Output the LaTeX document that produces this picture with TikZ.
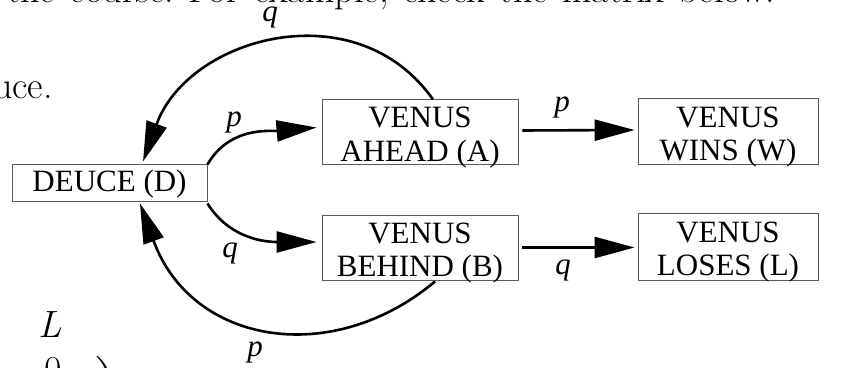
\documentclass[tikz,border=0pt]{standalone}
\usepackage{fontspec}
\newfontfamily\tnr{Liberation Serif}
\usetikzlibrary{arrows.meta}
\tikzset{
  box/.style={draw=black!65, line width=0.9pt, inner sep=0pt, minimum width=196pt, minimum height=65pt},
  boxtext/.style={align=center, inner sep=0pt, font=\tnr\fontsize{31}{33.5}\selectfont},
  conn/.style={line width=2.6pt, -{Triangle[length=40pt,width=21pt]}},
  lab/.style={inner sep=0pt, font=\tnr\itshape\fontsize{31}{34}\selectfont},
  pagetext/.style={inner sep=0pt, font=\fontsize{38}{44}\selectfont}
}
\begin{document}
\begin{tikzpicture}[x=1pt,y=1pt]
\useasboundingbox (0,0) rectangle (841,367);
% surrounding page text (cut off)
\node[pagetext, anchor=base west] (t1) at (-21,364) {\spaceskip=14.5pt t the course.\ For example, check the matrix below.};
\node[pagetext, anchor=base east] (t2) at (53,268) {uce.};
\node[pagetext, anchor=base west] (t3) at (38,29) {\itshape L};
\node[pagetext, anchor=base west] (t4) at (44,-16) {0};
\node[inner sep=0pt, font=\fontsize{75}{80}\selectfont, anchor=base west] (t5) at (93,-45) {)};
% boxes
\node[box, minimum width=195pt, minimum height=37pt] (D) at (109.5,184.5) {};
\node[boxtext] (Dt) at ([yshift=-2pt]D.center) {DEUCE (D)};
\node[box] (A) at (420,235.5) {};
\node[boxtext] (At) at ([yshift=-6pt]A.center) {VENUS\\AHEAD (A)};
\node[box, minimum width=180pt, minimum height=66pt] (W) at (728,236) {};
\node[boxtext] (Wt) at ([yshift=-6pt]W.center) {VENUS\\WINS (W)};
\node[box] (B) at (420,119.5) {};
\node[boxtext] (Bt) at ([yshift=-5.5pt]B.center) {VENUS\\BEHIND (B)};
\node[box, minimum width=180pt, minimum height=67pt] (L) at (728,120.5) {};
\node[boxtext] (Lt) at ([yshift=-5.5pt]L.center) {VENUS\\LOSES (L)};
% connectors
\draw[conn] ([xshift=4pt,yshift=1pt]A.east) -- ([xshift=-3pt,yshift=1pt]W.west);
\draw[conn] ([xshift=4pt]B.east) -- ([xshift=-3pt,yshift=-1pt]L.west);
\draw[conn] ([yshift=-1pt]D.north east) to[out=60,in=185] ([shift={(-5pt,4pt)}]A.west);
\draw[conn] ([yshift=-2pt]D.south east) to[out=-58,in=180] ([shift={(-5pt,5.5pt)}]B.west);
\draw[conn] ([xshift=13pt,yshift=-1pt]A.north) to[out=125,in=70,looseness=1.15] ([xshift=33.5pt,yshift=2pt]D.north);
\draw[conn] ([xshift=15pt,yshift=-1pt]B.south) to[out=-140,in=-70,out looseness=1.13,in looseness=1.26] ([xshift=30.5pt,yshift=-2pt]D.south);
% labels
\node[lab] (lp1) at (234,245) {p};
\node[lab] (lq1) at (230,114) {q};
\node[lab] (lq2) at (270,350) {q};
\node[lab] (lp2) at (255,15) {p};
\node[lab] (lp3) at (562,260) {p};
\node[lab] (lq3) at (563,97) {q};
\end{tikzpicture}
\end{document}
